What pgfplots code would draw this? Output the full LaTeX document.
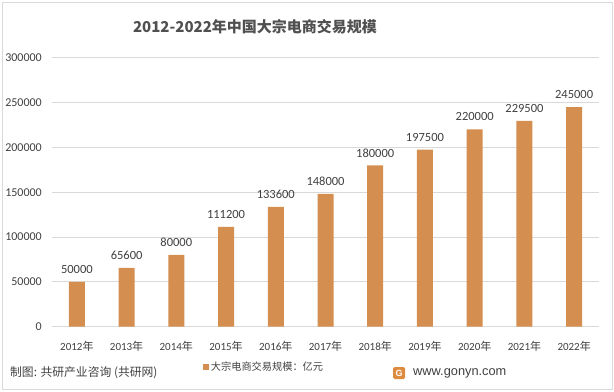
\documentclass[border=0pt]{standalone}
\usepackage{fontspec}
\setmainfont{Carlito}
\newfontfamily\cjk{Noto Sans CJK SC}
\newfontfamily\arial{Liberation Sans}
\usepackage{pgfplots}
\pgfplotsset{compat=1.18}
\definecolor{barcol}{RGB}{212,142,79}
\definecolor{txt}{RGB}{64,64,64}
\definecolor{ttl}{RGB}{80,80,80}
\definecolor{grid}{RGB}{217,217,217}
\begin{document}
\begin{tikzpicture}[x=1bp,y=1bp]
\path[use as bounding box] (0,0) rectangle (614,391);
\draw[color=grid,line width=0.8bp] (2,2) rectangle (612,389);
\begin{axis}[
  at={(52bp,64.3bp)}, anchor=south west,
  scale only axis, width=547bp, height=269bp,
  ybar, bar width=16bp,
  xmin=-0.5, xmax=10.5, ymin=0, ymax=300000,
  xtick={0,...,10},
  xticklabels={2012{\cjk 年},2013{\cjk 年},2014{\cjk 年},2015{\cjk 年},2016{\cjk 年},2017{\cjk 年},2018{\cjk 年},2019{\cjk 年},2020{\cjk 年},2021{\cjk 年},2022{\cjk 年}},
  ytick={0,50000,...,300000},
  scaled y ticks=false,
  /pgf/number format/assume math mode=true,
  yticklabel={\pgfmathprintnumber[fixed,precision=0,1000 sep={}]{\tick}},
  ymajorgrids, grid style={color=grid,line width=0.8bp},
  axis x line*=bottom, axis y line*=left,
  x axis line style={color=grid,line width=0.8bp},
  y axis line style={draw=none},
  major tick length=0pt,
  tick style={draw=none},
  xticklabel style={font=\fontsize{11bp}{12bp}\selectfont, text=txt, anchor=center, yshift=-19.3bp},
  yticklabel style={font=\fontsize{12bp}{14bp}\selectfont, text=txt, anchor=east, inner xsep=0pt, xshift=-10bp},
  nodes near coords,
  nodes near coords style={font=\fontsize{12.5bp}{14bp}\selectfont, text=txt, anchor=center, yshift=12.5bp, /pgf/number format/fixed, /pgf/number format/1000 sep={}, /pgf/number format/assume math mode=true},
  legend style={at={(0.3876,-0.1498)}, anchor=center, draw=none, fill=none, font=\cjk\fontsize{10.2bp}{12bp}\selectfont, text=txt, inner sep=0pt},
  legend image code/.code={\fill[barcol] (0bp,-3bp) rectangle (6bp,3bp);},
  clip=false,
]
\addplot[fill=barcol, draw=none, bar shift=0pt] coordinates {
(0,50000) (1,65600) (2,80000) (3,111200) (4,133600) (5,148000) (6,180000) (7,197500) (8,220000) (9,229500) (10,245000)};
\addlegendentry{大宗电商交易规模：亿元}
\end{axis}
\node[text=ttl, font=\cjk\bfseries\fontsize{15bp}{18bp}\selectfont] at (255,364) {2012-2022年中国大宗电商交易规模};
\node[anchor=west, text=txt, font=\cjk\fontsize{11.8bp}{14bp}\selectfont, inner sep=0pt] at (10,18) {制图: 共研产业咨询 (共研网)};
\fill[barcol!80!orange, rounded corners=1.5bp] (393,12) rectangle (405,24);
\node[text=white, font=\arial\bfseries\fontsize{9bp}{10bp}\selectfont, inner sep=0pt] at (399,18) {G};
\node[anchor=west, text=txt, font=\arial\fontsize{12.8bp}{15bp}\selectfont, inner sep=0pt] at (413,18) {www.gonyn.com};
\end{tikzpicture}
\end{document}
